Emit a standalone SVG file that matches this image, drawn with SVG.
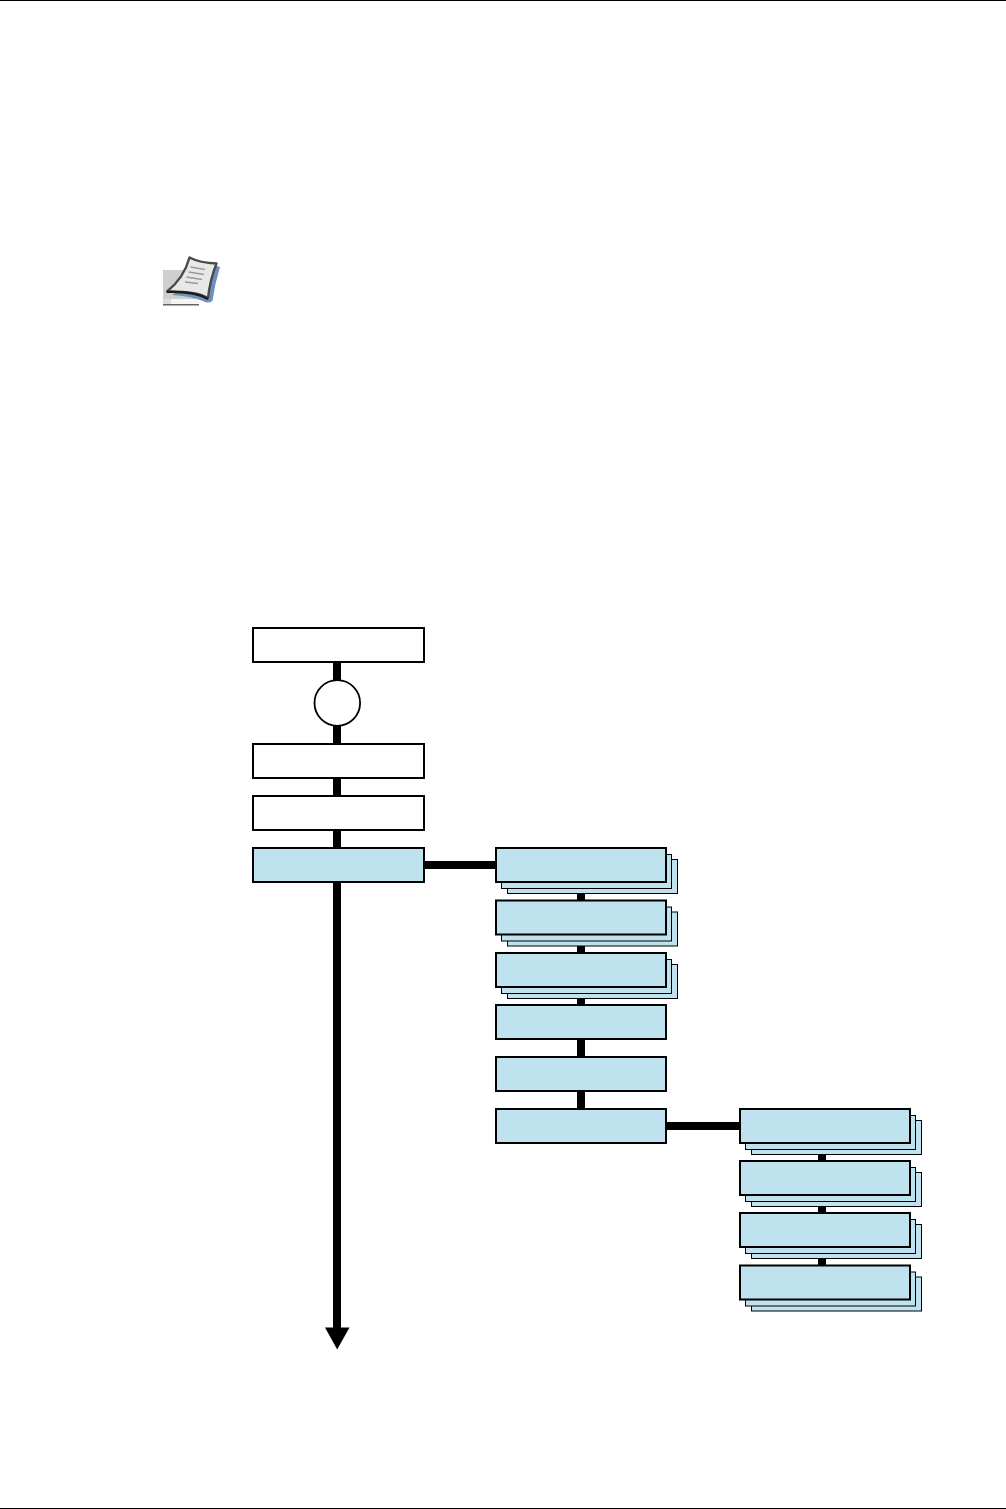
<svg xmlns="http://www.w3.org/2000/svg" width="1006" height="1509" viewBox="0 0 1006 1509">
<style>
.w{fill:#fff;stroke:#000;stroke-width:2}
.b{fill:#bee2ee;stroke:#000;stroke-width:2}
.s{fill:#bee2ee;stroke:#000;stroke-width:1}
.c{stroke:#000;stroke-width:8;fill:none}
</style>
<defs>
<g id="stack">
<rect class="s" x="11.5" y="11.5" width="170" height="34"/>
<rect class="s" x="5.5" y="6.5" width="170" height="34"/>
<rect class="b" x="0" y="0" width="170" height="34"/>
</g>
</defs>
<rect width="1006" height="1509" fill="#fff"/>
<rect id="page-top-rule" x="0" y="0" width="1006" height="1" fill="#000"/>
<rect id="page-bottom-rule" x="0" y="1508" width="1006" height="1" fill="#000"/>
<g id="note-icon">
<rect x="163" y="270" width="36" height="29" fill="#cfcfcf"/>
<rect x="163" y="299" width="8" height="5" fill="#dcdcdc"/>
<rect x="171" y="299" width="28" height="5" fill="#f4f4f4"/>
<rect x="163" y="304" width="36" height="1.5" fill="#666"/>
<path d="M198 260L220 267Q215 283 212.500 301Q208 304 203 301Q190 296 172 295L180 290Z" fill="#6f8fbd"/>
<path d="M189.500 257.500Q200 263 216.500 263.500Q210 280 208 298Q196 291 167 291.500Q184 278 189.500 257.500Z" fill="#e8e8e8" stroke="#4a4a4a" stroke-width="2.400" stroke-linejoin="round"/>
<path d="M167 292Q194 291 208 299" fill="none" stroke="#1a1a1a" stroke-width="2.200"/>
<path d="M190.500 267L205 269.500M188.500 272L204 274.500M186.500 277L202 279.500M185 282L198 283.500" stroke="#9a9a9a" stroke-width="1.700" fill="none"/>
</g>
<g id="connectors">
<path class="c" d="M337 662V680M337 726V744M337 778V796M337 830V848M337 882V1329"/>
<path d="M325 1327.500H349.500L337.200 1349.500Z" fill="#000"/>
<path class="c" d="M424 865H496M581 882V1109"/>
<path class="c" d="M666 1126H740M822 1143V1266"/>
</g>
<g id="node-1"><rect class="w" x="253" y="628" width="171" height="34"/></g>
<g id="node-circle"><circle cx="337.300" cy="703" r="22.800" fill="#fff" stroke="#000" stroke-width="1.800"/></g>
<g id="node-2"><rect class="w" x="253" y="744" width="171" height="34"/></g>
<g id="node-3"><rect class="w" x="253" y="796" width="171" height="34"/></g>
<g id="node-4"><rect class="b" x="253" y="848" width="171" height="34"/></g>
<g id="node-5"><use href="#stack" x="496" y="848"/></g>
<g id="node-6"><use href="#stack" x="496" y="900.500"/></g>
<g id="node-7"><use href="#stack" x="496" y="953"/></g>
<g id="node-8"><rect class="b" x="496" y="1005" width="170" height="34"/></g>
<g id="node-9"><rect class="b" x="496" y="1057" width="170" height="34"/></g>
<g id="node-10"><rect class="b" x="496" y="1109" width="170" height="34"/></g>
<g id="node-11"><use href="#stack" x="740" y="1109"/></g>
<g id="node-12"><use href="#stack" x="740" y="1161"/></g>
<g id="node-13"><use href="#stack" x="740" y="1213"/></g>
<g id="node-14"><use href="#stack" x="740" y="1265.500"/></g>
</svg>
